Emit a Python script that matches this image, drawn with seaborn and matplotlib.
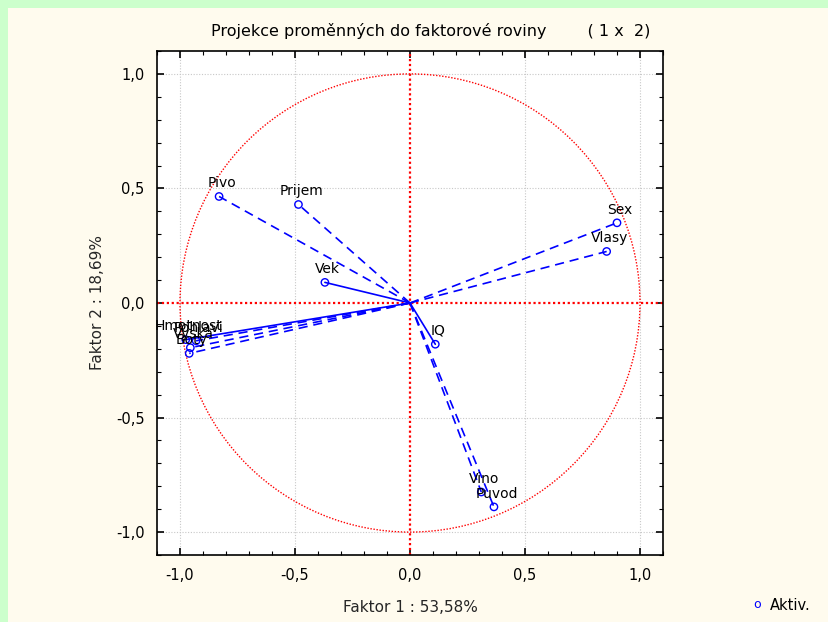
import numpy as np
import pandas as pd
import matplotlib
matplotlib.use("Agg")
import matplotlib.pyplot as plt
from matplotlib.patches import Circle, Rectangle
from matplotlib.ticker import MultipleLocator, FixedLocator
import seaborn as sns

# ---- data ----
variables = ["Pivo", "Prijem", "Vek", "Sex", "Vlasy", "IQ", "Vino", "Puvod",
             "Hmotnost", "Pohlavi", "Vyska", "Boty"]
factor1 = [-0.83, -0.485, -0.37, 0.90, 0.855, 0.11, 0.31, 0.365,
           -0.975, -0.93, -0.955, -0.96]
factor2 = [0.465, 0.43, 0.09, 0.35, 0.225, -0.18, -0.825, -0.89,
           -0.16, -0.165, -0.195, -0.22]
line_styles = ["dashed", "dashed", "solid", "dashed", "dashed", "solid",
               "dashed", "dashed", "solid", "dashed", "dashed", "dashed"]
tick_values = [-1.0, -0.5, 0.0, 0.5, 1.0]
tick_labels = ["-1,0", "-0,5", "0,0", "0,5", "1,0"]
title = "Projekce proměnných do faktorové roviny        ( 1 x  2)"
xlabel = "Faktor 1 : 53,58%"
ylabel = "Faktor 2 : 18,69%"
legend_label = "Aktiv."

df = pd.DataFrame({"var": variables, "f1": factor1, "f2": factor2, "ls": line_styles})

sns.set_style("white")
plt.rcParams["font.family"] = ["DejaVu Sans"]

fig = plt.figure(figsize=(8.29, 6.22), dpi=100)
fig.patch.set_facecolor("#ccffcc")
fig.patches.append(Rectangle((8 / 829, 0), 1, 1 - 8 / 622, transform=fig.transFigure,
                             facecolor="#fffbee", edgecolor="none", zorder=-10))

ax = fig.add_axes([157 / 829, 1 - 555 / 622, 506 / 829, 504 / 622])
ax.set_facecolor("white")

# grid
for v in [-1.0, -0.5, 0.5, 1.0]:
    ax.axvline(v, color="#c8c8c8", lw=0.8, ls=(0, (1, 1.5)), zorder=0)
    ax.axhline(v, color="#c8c8c8", lw=0.8, ls=(0, (1, 1.5)), zorder=0)

# unit circle and axes at zero
ax.add_patch(Circle((0, 0), 1.0, fill=False, edgecolor="red", lw=1.0,
                    ls=(0, (1, 1.2)), zorder=1))
ax.axvline(0, color="red", lw=1.6, ls=(0, (1, 1.2)), zorder=1)
ax.axhline(0, color="red", lw=1.6, ls=(0, (1, 1.2)), zorder=1)

# lines from origin
for _, r in df.iterrows():
    ls = "-" if r["ls"] == "solid" else (0, (5.5, 3.5))
    ax.plot([0, r["f1"]], [0, r["f2"]], color="#0000ff", lw=1.2, ls=ls, zorder=2)

sns.scatterplot(data=df, x="f1", y="f2", ax=ax, s=28, marker="o",
                facecolor="none", edgecolor="#0000ff", linewidth=1.0, zorder=3,
                legend=False)

for _, r in df.iterrows():
    ax.annotate(r["var"], (r["f1"], r["f2"]), xytext=(2, 4.5), textcoords="offset points",
                ha="center", va="bottom", fontsize=10, color="black", zorder=4)

ax.set_xlim(-1.1, 1.1)
ax.set_ylim(-1.1, 1.1)
ax.xaxis.set_major_locator(FixedLocator(tick_values))
ax.yaxis.set_major_locator(FixedLocator(tick_values))
ax.set_xticklabels(tick_labels)
ax.set_yticklabels(tick_labels)
ax.xaxis.set_minor_locator(MultipleLocator(0.1))
ax.yaxis.set_minor_locator(MultipleLocator(0.1))
ax.tick_params(which="both", direction="in", top=True, right=True, bottom=True, left=True,
               colors="black", labelsize=10.5)
ax.tick_params(which="major", length=5, width=1.2, pad=9)
ax.tick_params(which="minor", length=3, width=0.8)
for sp in ax.spines.values():
    sp.set_color("black")
    sp.set_linewidth(1.2)

ax.set_xlabel(xlabel, fontsize=11)
ax.set_ylabel(ylabel, fontsize=11)
ax.xaxis.set_label_coords(0.5, -(608 - 555) / 504)
ax.xaxis.label.set_va("center")
ax.yaxis.set_label_coords(-(157 - 98) / 506, 0.5)
ax.yaxis.label.set_va("center")
ax.text((431 - 157) / 506, 1 + 20 / 504, title, transform=ax.transAxes,
        ha="center", va="center", fontsize=11.5, color="black")

# legend
fig.text(757 / 829, 1 - 604 / 622, "o", color="#0000ff", fontsize=9, ha="center", va="center")
fig.text(770 / 829, 1 - 605 / 622, legend_label, color="black", fontsize=10.5, ha="left", va="center")

fig.savefig("out.png", dpi=100, facecolor=fig.get_facecolor())
